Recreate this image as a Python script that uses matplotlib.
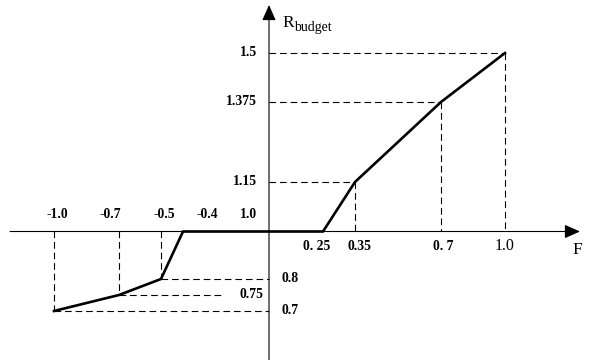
import numpy as np
import matplotlib.pyplot as plt

plt.rcParams['font.family'] = ['Liberation Serif', 'DejaVu Serif']

# piecewise budget curve R_budget(F)
F = [-1.0, -0.7, -0.5, -0.4, 0.25, 0.35, 0.7, 1.0]
R = [0.7, 0.75, 0.8, 1.0, 1.0, 1.15, 1.375, 1.5]

# marked points with dashed guides
neg_F = [-1.0, -0.7, -0.5]
neg_R = [0.7, 0.75, 0.8]
neg_guide_end = [0.0, -0.21, 0.0]
pos_F = [0.35, 0.7, 1.0]
pos_R = [1.15, 1.375, 1.5]

# labels
top_labels = ['-1.0', '-0.7', '-0.5', '-0.4']
top_label_F = [-1.0, -0.7, -0.5, -0.4]
bottom_labels = ['0. 25', '0.35', '0. 7']
bottom_label_F = [0.25, 0.35, 0.7]
y_labels = ['1.5', '1.375', '1.15']
y_label_R = [1.5, 1.375, 1.15]

# schematic (non-linear) axes: map values to pixel positions
X_KNOTS = [-1.5, -1.0, -0.7, -0.5, -0.4, 0.0, 0.25, 0.35, 0.7, 1.0, 1.5]
X_PIX = [-53.5, 54, 119, 161, 183, 269, 323, 355, 441, 505, 612]
Y_KNOTS = [0.4, 0.7, 0.75, 0.8, 1.0, 1.15, 1.375, 1.5, 1.8]
Y_PIX = [-47, 49, 65, 81, 128.5, 178, 258, 307, 424.6]


def xfwd(v):
    return np.interp(np.asarray(v, dtype=float), X_KNOTS, X_PIX)


def xinv(p):
    return np.interp(np.asarray(p, dtype=float), X_PIX, X_KNOTS)


def yfwd(v):
    return np.interp(np.asarray(v, dtype=float), Y_KNOTS, Y_PIX)


def yinv(p):
    return np.interp(np.asarray(p, dtype=float), Y_PIX, Y_KNOTS)


fig = plt.figure(figsize=(5.9, 3.6), dpi=100)
ax = fig.add_axes([0, 0, 1, 1])
ax.set_xscale('function', functions=(xfwd, xinv))
ax.set_yscale('function', functions=(yfwd, yinv))
ax.set_xlim(float(xinv(0)), float(xinv(590)))
ax.set_ylim(float(yinv(0)), float(yinv(360)))
ax.axis('off')

# axes with arrows
arrow = dict(arrowstyle='-|>,head_length=0.95,head_width=0.42', color='black',
             lw=0.8, mutation_scale=10, shrinkA=0, shrinkB=0)
ax.annotate('', xy=(580 / 590, 1.0), xytext=(10 / 590, 1.0),
            xycoords=ax.get_yaxis_transform(), arrowprops=arrow)
ax.annotate('', xy=(0.0, 355 / 360), xytext=(0.0, 0.0),
            xycoords=ax.get_xaxis_transform(), arrowprops=arrow)

dash = dict(color='black', lw=0.8, linestyle=(0, (6, 3.5)))
for f, r in zip(pos_F, pos_R):
    ax.plot([0, f], [r, r], **dash)
    ax.plot([f, f], [r, 1.0], **dash)
for f, r, e in zip(neg_F, neg_R, neg_guide_end):
    ax.plot([f, f], [1.0, r], **dash)
    ax.plot([f, e], [r, r], **dash)

ax.plot(F, R, color='black', lw=1.9, solid_joinstyle='miter')

num = dict(fontsize=9.8, fontweight='bold')
top_offsets = [3, -9, 3, 24]
for t, f, dx in zip(top_labels, top_label_F, top_offsets):
    ax.annotate(t, xy=(f, 1.0), xytext=(dx, 17), textcoords='offset pixels',
                ha='center', va='center', **num)
ax.annotate('1.0', xy=(0, 1.0), xytext=(-21, 17), textcoords='offset pixels',
            ha='center', va='center', **num)

bottom_offsets = [-6, 4, 2]
for t, f, dx in zip(bottom_labels, bottom_label_F, bottom_offsets):
    ax.annotate(t, xy=(f, 1.0), xytext=(dx, -15), textcoords='offset pixels',
                ha='center', va='center', **num)
ax.annotate('1.0', xy=(1.0, 1.0), xytext=(0, -15), textcoords='offset pixels',
            ha='center', va='center', fontsize=11.5)
ax.annotate('F', xy=(577 / 590, 1.0), xycoords=ax.get_yaxis_transform(),
            xytext=(0, -19), textcoords='offset pixels',
            ha='center', va='center', fontsize=12.5)

for t, r in zip(y_labels, y_label_R):
    ax.annotate(t, xy=(0, r), xytext=(-12, 0), textcoords='offset pixels',
                ha='right', va='center', **num)

ax.annotate('0.8', xy=(0, 0.8), xytext=(13, 0), textcoords='offset pixels',
            ha='left', va='center', **num)
ax.annotate('0.75', xy=(0, 0.75), xytext=(-5, 0), textcoords='offset pixels',
            ha='right', va='center', **num)
ax.annotate('0.7', xy=(0, 0.7), xytext=(13, 0), textcoords='offset pixels',
            ha='left', va='center', **num)

# axis title R with subscript "budget"
ax.annotate('R', xy=(0, 333 / 360), xycoords=ax.get_xaxis_transform(),
            xytext=(13, 0), textcoords='offset pixels',
            ha='left', va='baseline', fontsize=12.5)
ax.annotate('budget', xy=(0, 333 / 360), xycoords=ax.get_xaxis_transform(),
            xytext=(25, -4), textcoords='offset pixels',
            ha='left', va='baseline', fontsize=10)

fig.savefig('out.png', dpi=100)
